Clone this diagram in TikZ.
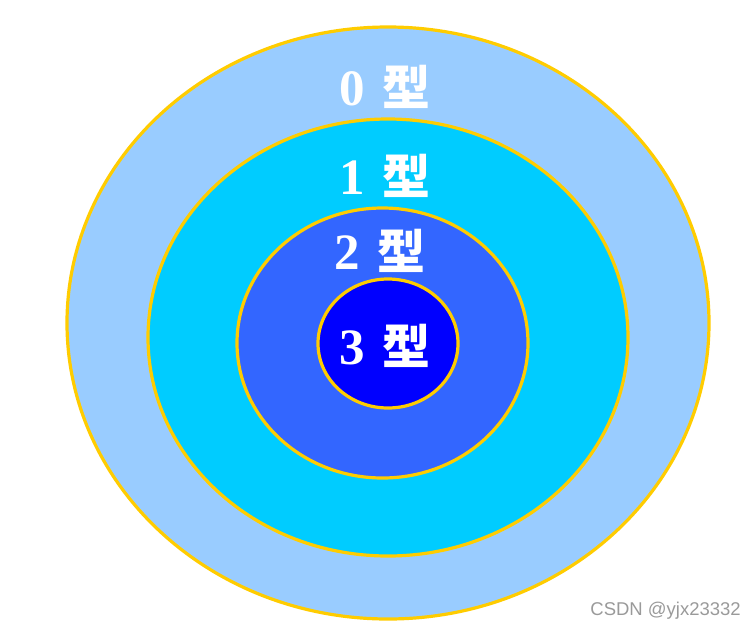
\documentclass[tikz,border=0pt]{standalone}
\usepackage{fontspec}
\setmainfont{Liberation Serif}
\newfontfamily\cjkbold{Noto Sans CJK SC Bold}
\newfontfamily\wmfont{Liberation Sans}
\usetikzlibrary{shapes.geometric}
\definecolor{ringA}{HTML}{99CCFF}
\definecolor{ringB}{HTML}{00CCFF}
\definecolor{ringC}{HTML}{3366FF}
\definecolor{ringD}{HTML}{0000FF}
\definecolor{rimgold}{HTML}{FFCC00}
\definecolor{wmgray}{HTML}{9A9A9A}
\tikzset{
  ring/.style={ellipse, draw=rimgold, line width=3.2pt, inner sep=0pt},
  lab/.style={text=white, font=\fontsize{51}{51}\selectfont\bfseries, inner sep=0pt, anchor=center},
}
\newcommand{\xing}{{\cjkbold\fontsize{48}{48}\selectfont 型}}
\begin{document}
\begin{tikzpicture}[x=1pt,y=-1pt]
\useasboundingbox (0,0) rectangle (755,633);
\fill[white] (0,0) rectangle (755,633);
\node[ring, fill=ringA, minimum width=642pt, minimum height=592pt] (r0) at (388,323) {};
\node[ring, fill=ringB, minimum width=480pt, minimum height=437pt] (r1) at (388,337.5) {};
\node[ring, fill=ringC, minimum width=291pt, minimum height=270pt] (r2) at (382.5,343) {};
\node[ring, fill=ringD, minimum width=140pt, minimum height=129pt] (r3) at (388,343.5) {};
\node[lab] (t0) at (385,87) {0\hspace{0.35em}\xing};
\node[lab] (t1) at (385,176) {1\hspace{0.35em}\xing};
\node[lab] (t2) at (380,251) {2\hspace{0.35em}\xing};
\node[lab] (t3) at (385,346) {3\hspace{0.35em}\xing};
\node[text=wmgray, font=\wmfont\fontsize{18.5}{18.5}\selectfont, inner sep=0pt, anchor=east] (wm) at (741,611) {CSDN @yjx23332};
\end{tikzpicture}
\end{document}
